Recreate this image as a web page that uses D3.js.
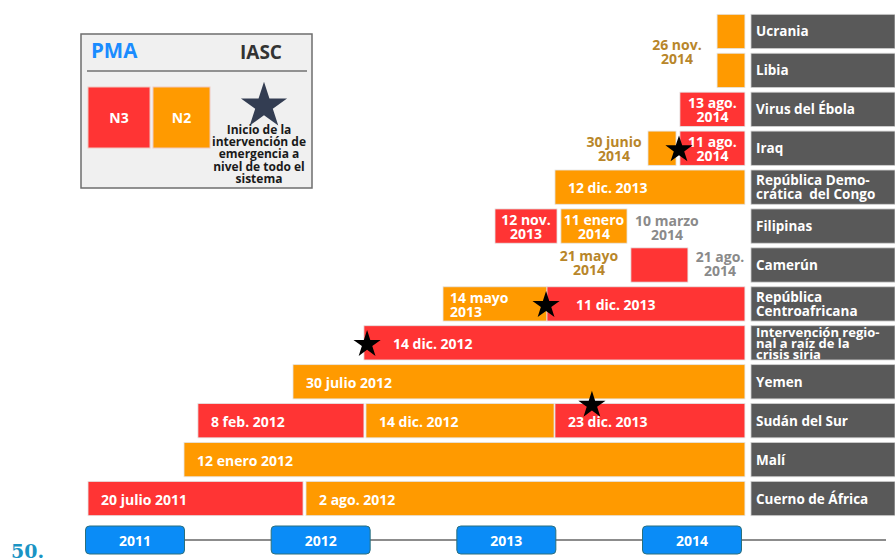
<!DOCTYPE html>
<html>
<head>
<meta charset="utf-8">
<script src="https://cdn.jsdelivr.net/npm/d3@7"></script>
<style>
  body { margin: 0; background: #fff; }
  svg { display: block; font-family: "Open Sans", sans-serif; font-weight: 700; }
  text { white-space: pre; }
</style>
</head>
<body>
<div id="chart"></div>
<script>
// emergencies, top to bottom ("\n" = line break in the grey label)
var rows = [
  "Ucrania",
  "Libia",
  "Virus del Ébola",
  "Iraq",
  "República Demo-\ncrática  del Congo",
  "Filipinas",
  "Camerún",
  "República\nCentroafricana",
  "Intervención regio-\nnal a raíz de la\ncrisis siria",
  "Yemen",
  "Sudán del Sur",
  "Malí",
  "Cuerno de África"
];

// years shown on the bottom timeline
var years = [2011, 2012, 2013, 2014];

// activation periods, in units of the drawn (schematic) timeline
// level: N3 = red, N2 = orange
var segments = [
  {row: 0,  level: "N2", start: 2014.135, end: 2014.285, label: ""},
  {row: 1,  level: "N2", start: 2014.135, end: 2014.285, label: ""},
  {row: 2,  level: "N3", start: 2013.935, end: 2014.285, label: "13 ago.\n2014", align: "middle"},
  {row: 3,  level: "N2", start: 2013.763, end: 2013.914, label: ""},
  {row: 3,  level: "N3", start: 2013.935, end: 2014.285, label: "11 ago.\n2014", align: "middle"},
  {row: 4,  level: "N2", start: 2013.262, end: 2014.285, label: "12 dic. 2013"},
  {row: 5,  level: "N3", start: 2012.939, end: 2013.273, label: "12 nov.\n2013", align: "middle"},
  {row: 5,  level: "N2", start: 2013.294, end: 2013.650, label: "11 enero\n2014", align: "middle"},
  {row: 6,  level: "N3", start: 2013.671, end: 2013.978, label: ""},
  {row: 7,  level: "N2", start: 2012.659, end: 2013.219, label: "14 mayo\n2013"},
  {row: 7,  level: "N3", start: 2013.219, end: 2014.285, label: "11 dic. 2013"},
  {row: 8,  level: "N3", start: 2012.233, end: 2014.285, label: "14 dic. 2012"},
  {row: 9,  level: "N2", start: 2011.851, end: 2014.285, label: "30 julio 2012"},
  {row: 10, level: "N3", start: 2011.339, end: 2012.233, label: "8 feb. 2012"},
  {row: 10, level: "N2", start: 2012.244, end: 2013.257, label: "14 dic. 2012"},
  {row: 10, level: "N3", start: 2013.262, end: 2014.285, label: "23 dic. 2013"},
  {row: 11, level: "N2", start: 2011.264, end: 2014.285, label: "12 enero 2012"},
  {row: 12, level: "N3", start: 2010.747, end: 2011.905, label: "20 julio 2011"},
  {row: 12, level: "N2", start: 2011.921, end: 2014.285, label: "2 ago. 2012"}
];

// dates written outside the bars (at = text centre on the timeline)
var notes = [
  {row: 1, at: 2013.919, frac: -0.08, text: "26 nov.\n2014", tone: "gold"},
  {row: 3, at: 2013.580, frac: 0.48, text: "30 junio\n2014", tone: "gold"},
  {row: 5, at: 2013.865, frac: 0.52, text: "10 marzo\n2014", tone: "grey"},
  {row: 6, at: 2013.445, frac: 0.42, text: "21 mayo\n2014", tone: "gold"},
  {row: 6, at: 2014.151, frac: 0.45, text: "21 ago.\n2014", tone: "grey"}
];

// IASC system-wide emergency activations (stars)
var stars = [
  {row: 3,  at: 2013.930, frac: 0.5},
  {row: 7,  at: 2013.214, frac: 0.5},
  {row: 8,  at: 2012.250, frac: 0.5},
  {row: 10, at: 2013.461, frac: 0.0}
];

var legendText = ["Inicio de la", "intervención de", "emergencia a", "nivel de todo el", "sistema"];

var w = 895, h = 559;
var levelColor = {N3: "#ff3434", N2: "#ff9a00"};
var toneColor = {gold: "#b8862a", grey: "#8a8a8a"};

var svg = d3.select("#chart").append("svg")
  .attr("width", w)
  .attr("height", h);

var x = d3.scaleLinear().domain([2011, 2014]).range([135, 692]);
var y = d3.scaleBand()
  .domain(d3.range(rows.length))
  .range([12, 518])
  .paddingInner(0.12)
  .paddingOuter(0.06);
var bw = y.bandwidth();

function starPath(size) {
  return d3.symbol().type(d3.symbolStar).size(size)();
}

// write multi-line text centred vertically on cy
function multiText(g, text, lineH) {
  var lines = text.split("\n");
  lines.forEach(function (t, i) {
    g.append("tspan")
      .attr("x", g.attr("x"))
      .attr("dy", i == 0 ? (-(lines.length - 1) * lineH / 2) + "px" : lineH + "px")
      .text(t);
  });
}

// ---- bars
var bars = svg.append("g");
bars.selectAll("rect")
  .data(segments)
  .enter().append("rect")
  .attr("x", function (d) { return x(d.start); })
  .attr("y", function (d) { return y(d.row); })
  .attr("width", function (d) { return x(d.end) - x(d.start); })
  .attr("height", bw)
  .attr("fill", function (d) { return levelColor[d.level]; })
  .attr("stroke", "#e4e4e4")
  .attr("stroke-width", 0.8);

segments.forEach(function (d) {
  if (!d.label) return;
  var twoLines = d.label.indexOf("\n") >= 0;
  var hasStar = stars.some(function (s) { return s.row == d.row && s.frac == 0.5 && Math.abs(x(s.at) - x(d.start)) < 6; });
  var tx;
  if (d.align == "middle") tx = (x(d.start) + x(d.end)) / 2;
  else tx = x(d.start) + (hasStar ? 29 : (twoLines ? 7 : 13));
  var t = bars.append("text")
    .attr("x", tx)
    .attr("y", y(d.row) + bw / 2)
    .attr("dominant-baseline", "central")
    .attr("text-anchor", d.align == "middle" ? "middle" : "start")
    .attr("fill", "#fff")
    .attr("font-size", "14px");
  multiText(t, d.label, 14);
});

// ---- notes outside bars
notes.forEach(function (d) {
  var t = svg.append("text")
    .attr("x", x(d.at))
    .attr("y", y(d.row) + bw * d.frac)
    .attr("dominant-baseline", "central")
    .attr("text-anchor", "middle")
    .attr("fill", toneColor[d.tone])
    .attr("font-size", "14px");
  multiText(t, d.text, 14);
});

// ---- stars
svg.append("g").selectAll("path")
  .data(stars)
  .enter().append("path")
  .attr("d", starPath(230))
  .attr("transform", function (d) {
    return "translate(" + x(d.at) + "," + (y(d.row) + bw * d.frac + 1.5) + ")";
  })
  .attr("fill", "#000");

// ---- row labels
var lab = svg.append("g");
rows.forEach(function (r, i) {
  lab.append("rect")
    .attr("x", 751)
    .attr("y", y(i))
    .attr("width", w - 751)
    .attr("height", bw)
    .attr("fill", "#595959")
    .attr("stroke", "#d0d0d0")
    .attr("stroke-width", 0.8);
  var n = r.split("\n").length;
  var t = lab.append("text")
    .attr("x", 756)
    .attr("y", y(i) + bw / 2)
    .attr("dominant-baseline", "central")
    .attr("fill", "#fff")
    .attr("font-size", n > 2 ? "13px" : "13.5px");
  multiText(t, r, n > 2 ? 11.2 : 13.5);
});

// ---- timeline
var axisG = svg.append("g");
axisG.append("line")
  .attr("x1", 86).attr("x2", 886)
  .attr("y1", 540).attr("y2", 540)
  .attr("stroke", "#8c8c8c")
  .attr("stroke-width", 2);
var yearG = axisG.selectAll("g.year")
  .data(years)
  .enter().append("g")
  .attr("class", "year")
  .attr("transform", function (d) { return "translate(" + x(d) + ",540)"; });
yearG.append("rect")
  .attr("x", -49.5).attr("y", -14)
  .attr("width", 99).attr("height", 28)
  .attr("rx", 4)
  .attr("fill", "#0a8cf7")
  .attr("stroke", "#2b6f7c")
  .attr("stroke-width", 1);
yearG.append("text")
  .attr("text-anchor", "middle")
  .attr("dominant-baseline", "central")
  .attr("fill", "#fff")
  .attr("font-size", "14px")
  .text(function (d) { return d; });

svg.append("text")
  .attr("x", 11)
  .attr("y", 558)
  .attr("fill", "#1a94c4")
  .attr("font-family", "'DejaVu Serif', serif")
  .attr("font-size", "19px")
  .text("50.");

// ---- legend
var leg = svg.append("g");
leg.append("rect")
  .attr("x", 81).attr("y", 34)
  .attr("width", 231).attr("height", 154)
  .attr("fill", "#f0f0f0")
  .attr("stroke", "#6e6e6e")
  .attr("stroke-width", 1.5);
leg.append("text")
  .attr("x", 91).attr("y", 58)
  .attr("fill", "#1a8cff")
  .attr("font-size", "20.5px")
  .text("PMA");
leg.append("text")
  .attr("x", 240).attr("y", 59)
  .attr("fill", "#333")
  .attr("font-size", "19px")
  .text("IASC");
leg.append("line")
  .attr("x1", 87).attr("x2", 307)
  .attr("y1", 71).attr("y2", 71)
  .attr("stroke", "#333")
  .attr("stroke-width", 1);
var legBoxes = [{level: "N3", x0: 88, x1: 150}, {level: "N2", x0: 153, x1: 210}];
legBoxes.forEach(function (b) {
  leg.append("rect")
    .attr("x", b.x0).attr("y", 87)
    .attr("width", b.x1 - b.x0).attr("height", 61)
    .attr("fill", levelColor[b.level])
    .attr("stroke", "#f0c8c0")
    .attr("stroke-width", 1);
  leg.append("text")
    .attr("x", (b.x0 + b.x1) / 2).attr("y", 117)
    .attr("text-anchor", "middle")
    .attr("dominant-baseline", "central")
    .attr("fill", "#fff")
    .attr("font-size", "14px")
    .text(b.level);
});
leg.append("path")
  .attr("d", starPath(660))
  .attr("transform", "translate(264,106)")
  .attr("fill", "#333d52");
leg.selectAll("text.note")
  .data(legendText)
  .enter().append("text")
  .attr("class", "note")
  .attr("x", 259)
  .attr("y", function (d, i) { return 134 + i * 12.2; })
  .attr("text-anchor", "middle")
  .attr("fill", "#1a1a1a")
  .attr("font-size", "12px")
  .text(function (d) { return d; });
</script>
</body>
</html>
